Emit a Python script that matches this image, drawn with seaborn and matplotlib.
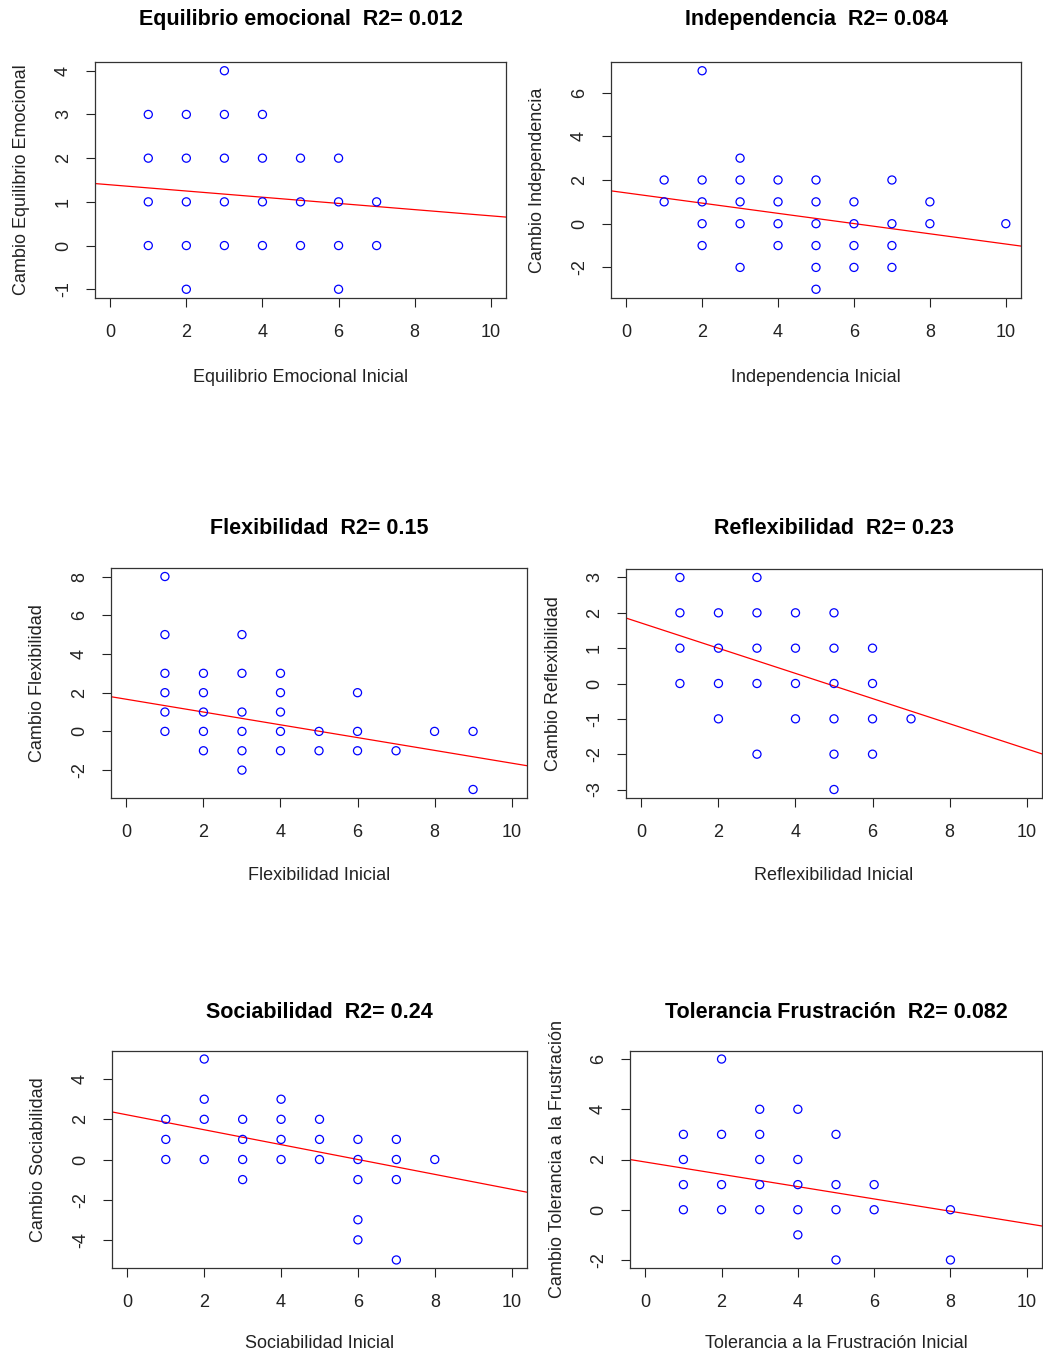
import matplotlib
matplotlib.use("Agg")
import matplotlib.pyplot as plt
import seaborn as sns
import numpy as np
import pandas as pd

# ---------------- data ----------------
titles = ["Equilibrio emocional  R2= 0.012", "Independencia  R2= 0.084",
          "Flexibilidad  R2= 0.15", "Reflexibilidad  R2= 0.23",
          "Sociabilidad  R2= 0.24", "Tolerancia Frustración  R2= 0.082"]
xlabels = ["Equilibrio Emocional Inicial", "Independencia Inicial",
           "Flexibilidad Inicial", "Reflexibilidad Inicial",
           "Sociabilidad Inicial", "Tolerancia a la Frustración Inicial"]
ylabels = ["Cambio Equilibrio Emocional", "Cambio Independencia",
           "Cambio Flexibilidad", "Cambio Reflexibilidad",
           "Cambio Sociabilidad", "Cambio Tolerancia a la Frustración"]

eq_x = [1, 1, 1, 1, 2, 2, 2, 2, 2, 3, 3, 3, 3, 3, 4, 4, 4, 4, 5, 5, 5, 6, 6, 6, 6, 7, 7]
eq_y = [0, 1, 2, 3, -1, 0, 1, 2, 3, 0, 1, 2, 3, 4, 0, 1, 2, 3, 0, 1, 2, -1, 0, 1, 2, 0, 1]

ind_x = [1, 1, 2, 2, 2, 2, 2, 3, 3, 3, 3, 3, 4, 4, 4, 4, 5, 5, 5, 5, 5, 5,
         6, 6, 6, 6, 7, 7, 7, 7, 8, 8, 10]
ind_y = [2, 1, 7, 2, 1, 0, -1, 3, 2, 1, 0, -2, 2, 1, 0, -1, 2, 1, 0, -1, -2, -3,
         1, 0, -1, -2, 2, 0, -1, -2, 1, 0, 0]

flex_x = [1, 1, 1, 1, 1, 1, 2, 2, 2, 2, 2, 3, 3, 3, 3, 3, 3, 4, 4, 4, 4, 4,
          5, 5, 6, 6, 6, 7, 8, 9, 9]
flex_y = [8, 5, 3, 2, 1, 0, 3, 2, 1, 0, -1, 5, 3, 1, 0, -1, -2, 3, 2, 1, 0, -1,
          0, -1, 2, 0, -1, -1, 0, 0, -3]

refl_x = [1, 1, 1, 1, 2, 2, 2, 2, 3, 3, 3, 3, 3, 4, 4, 4, 4, 5, 5, 5, 5, 5, 5,
          6, 6, 6, 6, 7]
refl_y = [3, 2, 1, 0, 2, 1, 0, -1, 3, 2, 1, 0, -2, 2, 1, 0, -1, 2, 1, 0, -1, -2, -3,
          1, 0, -1, -2, -1]

soc_x = [1, 1, 1, 2, 2, 2, 2, 3, 3, 3, 3, 4, 4, 4, 4, 5, 5, 5,
         6, 6, 6, 6, 6, 7, 7, 7, 7, 8]
soc_y = [2, 1, 0, 5, 3, 2, 0, 2, 1, 0, -1, 3, 2, 1, 0, 2, 1, 0,
         1, 0, -1, -3, -4, 1, 0, -1, -5, 0]

tol_x = [1, 1, 1, 1, 2, 2, 2, 2, 3, 3, 3, 3, 3, 4, 4, 4, 4, 4, 5, 5, 5, 5, 6, 6, 8, 8]
tol_y = [3, 2, 1, 0, 6, 3, 1, 0, 4, 3, 2, 1, 0, 4, 2, 1, 0, -1, 3, 1, 0, -2, 1, 0, 0, -2]

xs = [eq_x, ind_x, flex_x, refl_x, soc_x, tol_x]
ys = [eq_y, ind_y, flex_y, refl_y, soc_y, tol_y]

# fitted regression lines
intercepts = [1.39, 1.41, 1.66, 1.71, 2.22, 1.90]
slopes = [-0.071, -0.234, -0.33, -0.356, -0.37, -0.245]

ylims = [(-1.2, 4.2), (-3.4, 7.4), (-3.44, 8.44), (-3.24, 3.24), (-5.4, 5.4), (-2.32, 6.32)]
yticks = [[-1, 0, 1, 2, 3, 4], [-2, 0, 2, 4, 6], [-2, 0, 2, 4, 6, 8],
          [-3, -2, -1, 0, 1, 2, 3], [-4, -2, 0, 2, 4], [-2, 0, 2, 4, 6]]
xticks = [0, 2, 4, 6, 8, 10]

# ---------------- layout (pixels) ----------------
W, H = 1043, 1352
boxes = [(95, 62, 506, 298), (611, 62, 1021, 298),
         (111, 568, 527, 798), (626, 569, 1042, 798),
         (112, 1051, 527, 1268), (630, 1051, 1042, 1268)]
title_y = [20, 20, 528, 528, 1013, 1013]
xlab_y = [378, 378, 876, 876, 1343, 1343]

sns.set_style("white")
plt.rcParams["font.family"] = ["Liberation Sans", "DejaVu Sans"]

fig = plt.figure(figsize=(W / 100, H / 100), dpi=100)

for i in range(6):
    l, t, r, b = boxes[i]
    ax = fig.add_axes([l / W, 1 - b / H, (r - l) / W, (b - t) / H])
    df = pd.DataFrame({"x": xs[i], "y": ys[i]})
    sns.scatterplot(data=df, x="x", y="y", ax=ax, marker="o", s=34,
                    facecolors="none", edgecolor="blue", linewidth=0.9, zorder=3)
    ax.axline((0, intercepts[i]), slope=slopes[i], color="red", lw=0.9, zorder=2)
    ax.set_xlim(-0.4, 10.4)
    ax.set_ylim(*ylims[i])
    ax.set_xticks(xticks)
    ax.set_yticks(yticks[i])
    ax.set_xticklabels([str(v) for v in xticks])
    ax.set_yticklabels([str(v) for v in yticks[i]], rotation=90, va="center")
    ax.tick_params(axis="both", direction="out", length=6.5, width=0.8,
                   color="#222222", labelsize=13, labelcolor="#222222",
                   bottom=True, left=True)
    ax.tick_params(axis="x", pad=12)
    ax.tick_params(axis="y", pad=10)
    for sp in ax.spines.values():
        sp.set_visible(True)
        sp.set_color("#333333")
        sp.set_linewidth(0.9)
    ax.set_xlabel("")
    ax.set_ylabel("")
    cx = (l + r) / 2
    cy = (t + b) / 2
    fig.text(cx / W, 1 - title_y[i] / H, titles[i], ha="center", va="center",
             fontsize=15.5, fontweight="bold", color="black")
    fig.text(cx / W, 1 - xlab_y[i] / H, xlabels[i], ha="center", va="center",
             fontsize=13, color="#222222")
    fig.text((l - 73) / W, 1 - cy / H, ylabels[i], ha="center", va="center",
             rotation=90, fontsize=13, color="#222222")

fig.savefig("out.png", dpi=100, facecolor="white")
